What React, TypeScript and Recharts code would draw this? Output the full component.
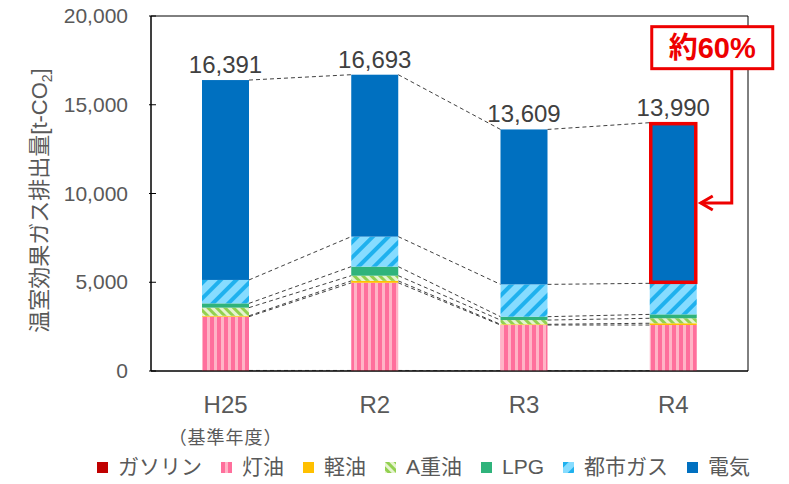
import React from 'react';
import {
  BarChart,
  Bar,
  XAxis,
  YAxis,
  CartesianGrid,
  LabelList,
  Legend,
} from 'recharts';

const categories = ['H25', 'R2', 'R3', 'R4'];
const subLabels = ['（基準年度）', '', '', ''];
const gasoline = [30, 30, 20, 20];
const kerosene = [3030, 4940, 2570, 2570];
const lightOil = [50, 110, 40, 100];
const heavyOilA = [460, 290, 240, 280];
const lpg = [240, 510, 190, 220];
const cityGas = [1320, 1690, 1820, 1750];
const electricity = [11261, 9123, 8729, 9050];
const totals = [16391, 16693, 13609, 13990];
const yTicks = [0, 5000, 10000, 15000, 20000];
const calloutText = '約60%';

const W = 789;
const H = 484;
const Y_MAX = 20000;
const MARGIN = { top: 16, right: 41, left: 0, bottom: 0 };
const Y_AXIS_W = 151;
const STEP = (W - MARGIN.right - Y_AXIS_W) / categories.length;
const FONT = "'Liberation Sans', 'Noto Sans CJK JP', sans-serif";

const series = [
  { key: 'gasoline', name: 'ガソリン', values: gasoline, fill: '#C00000' },
  { key: 'kerosene', name: '灯油', values: kerosene, fill: 'url(#patKerosene)' },
  { key: 'lightOil', name: '軽油', values: lightOil, fill: '#FFC000' },
  { key: 'heavyOilA', name: 'A重油', values: heavyOilA, fill: 'url(#patHeavy)' },
  { key: 'lpg', name: 'LPG', values: lpg, fill: '#2FB37B' },
  { key: 'cityGas', name: '都市ガス', values: cityGas, fill: 'url(#patCityGas)' },
  { key: 'electricity', name: '電気', values: electricity, fill: '#0070C0' },
];

const data = categories.map((c, i) => {
  const row: Record<string, number | string> = { name: c, sub: subLabels[i], total: totals[i] };
  series.forEach((s) => {
    row[s.key] = s.values[i];
  });
  return row;
});

// running tops of each stack segment, used for the dashed series lines
const cumulative = series.map((_, s) =>
  categories.map((__, i) => series.slice(0, s + 1).reduce((a, ss) => a + ss.values[i], 0))
);

const Patterns = () => (
  <defs>
    <pattern id="patKerosene" patternUnits="userSpaceOnUse" width="7" height="7">
      <rect width="7" height="7" fill="#FFB4C6" />
      <rect width="4" height="7" fill="#FF6F9C" />
    </pattern>
    <pattern id="patHeavy" patternUnits="userSpaceOnUse" width="6" height="6" patternTransform="rotate(-45)">
      <rect width="6" height="6" fill="#E6F3CF" />
      <rect width="3" height="6" fill="#92D050" />
    </pattern>
    <pattern id="patCityGas" patternUnits="userSpaceOnUse" width="11" height="11" patternTransform="rotate(45)">
      <rect width="11" height="11" fill="#86DCFF" />
      <rect width="4" height="11" fill="#1FB1EE" />
    </pattern>
  </defs>
);

const makeShape = (s: number) => (props: any) => {
  const { x, y, width, height, index, background } = props;
  const val = series[s].values[index];
  let k = val ? height / val : 0;
  let zeroY = y + height + (s > 0 ? cumulative[s - 1][index] : 0) * k;
  if (background && background.height) {
    k = background.height / Y_MAX;
    zeroY = background.y + background.height;
  }
  const isLast = s === series.length - 1;
  return (
    <g>
      <rect x={x} y={y} width={width} height={Math.max(height, 0)} fill={series[s].fill} />
      {index < categories.length - 1 && (
        <line
          x1={x + width}
          y1={y}
          x2={x + STEP}
          y2={zeroY - cumulative[s][index + 1] * k}
          stroke="#404040"
          strokeWidth={1}
          strokeDasharray="4 3"
        />
      )}
      {isLast && index === categories.length - 1 && (
        <g>
          <rect x={x + 1} y={y + 1} width={width - 2} height={height - 2} fill="none" stroke="#EE0000" strokeWidth={3.5} />
          <polyline
            points={`${x + width + 35},${y - 54} ${x + width + 35},${y + height / 2} ${x + width + 4},${y + height / 2}`}
            fill="none"
            stroke="#EE0000"
            strokeWidth={3}
          />
          <polyline
            points={`${x + width + 16},${y + height / 2 - 7} ${x + width + 4},${y + height / 2} ${x + width + 16},${y + height / 2 + 7}`}
            fill="none"
            stroke="#EE0000"
            strokeWidth={3}
          />
          <rect x={x + 2} y={y - 96} width={121} height={42} fill="#FFFFFF" stroke="#EE0000" strokeWidth={3} />
          <text x={x + 62.5} y={y - 65} textAnchor="middle" fontSize={29} fontWeight="bold" fill="#EE0000">
            {calloutText}
          </text>
        </g>
      )}
    </g>
  );
};

const YTick = (props: any) => {
  const { x, y, payload } = props;
  return (
    <g>
      <line x1={x} x2={x + 7} y1={y} y2={y} stroke="#000" strokeWidth={1} />
      <text x={x - 21} y={y} dy={7} textAnchor="end" fontSize={21} fill="#595959">
        {payload.value.toLocaleString('en-US')}
      </text>
    </g>
  );
};

const XTick = (props: any) => {
  const { x, y, payload, index } = props;
  const sub = subLabels[index];
  return (
    <g>
      <text x={x} y={y + 40} textAnchor="middle" fontSize={24} fill="#595959">
        {payload.value}
      </text>
      {sub && (
        <text x={x} y={y + 71} textAnchor="middle" fontSize={18} letterSpacing={1} fill="#595959">
          {sub}
        </text>
      )}
    </g>
  );
};

const YLabel = (props: any) => {
  const vb = props.viewBox || { y: 16, height: 355 };
  const cy = vb.y + vb.height / 2 + 7;
  return (
    <text transform={`translate(47, ${cy}) rotate(-90)`} textAnchor="middle" fontSize={22} fill="#595959">
      温室効果ガス排出量[t-CO<tspan fontSize={14} dy={5}>2</tspan>
      <tspan dy={-5}>]</tspan>
    </text>
  );
};

const LegendContent = () => (
  <div style={{ display: 'flex', alignItems: 'center', height: 30, fontSize: 21, color: '#595959', fontFamily: FONT }}>
    {series.map((s, i) => (
      <div key={s.key} style={{ display: 'flex', alignItems: 'center', marginLeft: i === 0 ? 0 : 19 }}>
        <svg width={11} height={11} style={{ display: 'block' }}>
          <rect width={11} height={11} fill={s.fill} />
        </svg>
        <span style={{ marginLeft: 10, lineHeight: '30px' }}>{s.name}</span>
      </div>
    ))}
  </div>
);

export default function App() {
  return (
    <div style={{ position: 'absolute', left: 0, top: 0, fontFamily: FONT }}>
      <BarChart width={W} height={H} data={data} margin={MARGIN} barSize={47}>
        <Patterns />
        <CartesianGrid
          stroke="#000"
          horizontalCoordinatesGenerator={({ offset }: any) => [offset.top, offset.top + offset.height]}
          verticalCoordinatesGenerator={({ offset }: any) => [offset.left, offset.left + offset.width]}
        />
        <XAxis
          dataKey="name"
          height={83}
          tickLine={false}
          tickSize={0}
          axisLine={{ stroke: '#000' }}
          tick={<XTick />}
          interval={0}
        />
        <YAxis
          width={Y_AXIS_W}
          domain={[0, Y_MAX]}
          ticks={yTicks}
          tickLine={false}
          tickSize={0}
          axisLine={{ stroke: '#000' }}
          tick={<YTick />}
          label={<YLabel />}
        />
        <Legend
          verticalAlign="bottom"
          content={<LegendContent />}
          wrapperStyle={{ left: 97, top: 452, width: 680, height: 30 }}
        />
        {series.map((s, si) => (
          <Bar
            key={s.key}
            dataKey={s.key}
            name={s.name}
            stackId="a"
            fill={s.fill}
            shape={makeShape(si)}
            isAnimationActive={false}
          >
            {si === series.length - 1 && (
              <LabelList
                dataKey="total"
                position="top"
                offset={7}
                fontSize={24}
                fill="#404040"
                formatter={(v: any) => Number(v).toLocaleString('en-US')}
              />
            )}
          </Bar>
        ))}
      </BarChart>
    </div>
  );
}
